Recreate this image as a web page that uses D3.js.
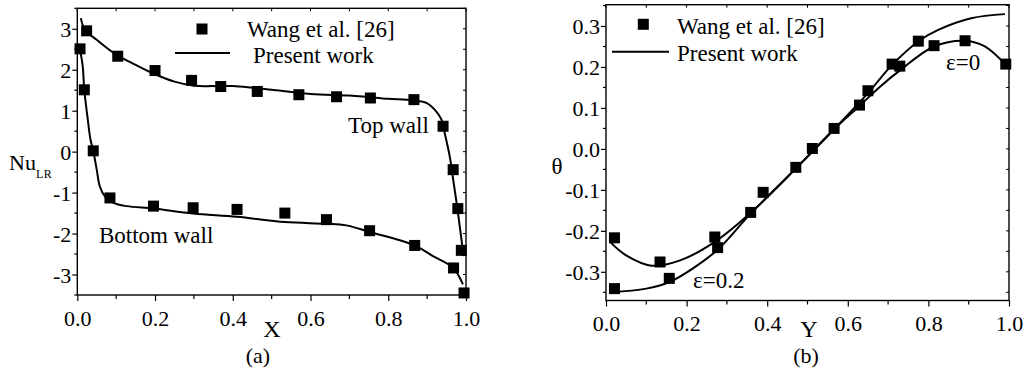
<!DOCTYPE html>
<html>
<head>
<meta charset="utf-8">
<script src="https://cdn.jsdelivr.net/npm/d3@7"></script>
<style>
  html, body { margin: 0; padding: 0; background: #fff; }
  svg { display: block; }
</style>
</head>
<body>
<svg id="chart" width="1028" height="374"></svg>
<script>
// ---------- Panel (a): local Nusselt number along the walls ----------
const topWallX   = [0.024, 0.104, 0.200, 0.294, 0.369, 0.463, 0.570, 0.667, 0.754, 0.866, 0.941, 0.967, 0.979, 0.988];
const topWallNu  = [2.95, 2.33, 1.98, 1.74, 1.59, 1.47, 1.39, 1.34, 1.31, 1.27, 0.62, -0.44, -1.39, -2.41];
const bottomWallX  = [0.007, 0.018, 0.041, 0.084, 0.196, 0.298, 0.411, 0.534, 0.641, 0.752, 0.868, 0.968, 0.995];
const bottomWallNu = [2.51, 1.51, 0.02, -1.13, -1.33, -1.37, -1.41, -1.50, -1.66, -1.93, -2.29, -2.84, -3.45];

const topLineX  = [0.009, 0.02, 0.05, 0.10, 0.15, 0.20, 0.25, 0.30, 0.35, 0.40, 0.45, 0.50, 0.60, 0.70, 0.75, 0.80, 0.864, 0.898, 0.92, 0.937, 0.945, 0.958, 0.967, 0.977, 0.986, 0.994];
const topLineNu = [3.26, 2.97, 2.73, 2.37, 2.12, 1.89, 1.71, 1.61, 1.60, 1.60, 1.56, 1.51, 1.41, 1.37, 1.33, 1.29, 1.25, 1.19, 1.02, 0.78, 0.46, -0.11, -0.68, -1.33, -1.98, -2.55];
const bottomLineX  = [0.007, 0.014, 0.018, 0.026, 0.034, 0.041, 0.05, 0.058, 0.071, 0.093, 0.127, 0.196, 0.298, 0.411, 0.534, 0.641, 0.692, 0.752, 0.868, 0.915, 0.968, 0.984, 0.992];
const bottomLineNu = [2.49, 2.08, 1.50, 0.86, 0.29, 0.02, -0.44, -0.85, -1.09, -1.25, -1.33, -1.39, -1.51, -1.59, -1.72, -1.76, -1.80, -1.96, -2.29, -2.55, -2.84, -3.08, -3.24];

const xTicksA = [0, 0.2, 0.4, 0.6, 0.8, 1.0];
const xTickLabelsA = ["0.0", "0.2", "0.4", "0.6", "0.8", "1.0"];
const yTicksA = [3, 2, 1, 0, -1, -2, -3];
const yTickLabelsA = ["3", "2", "1", "0", "-1", "-2", "-3"];

// ---------- Panel (b): temperature profiles ----------
const eps0Y     = [0.021, 0.134, 0.270, 0.359, 0.471, 0.566, 0.629, 0.729, 0.814, 0.891, 0.992];
const eps0Theta = [-0.217, -0.276, -0.215, -0.155, -0.045, 0.050, 0.107, 0.202, 0.252, 0.264, 0.207];
const eps02Y     = [0.021, 0.157, 0.277, 0.390, 0.512, 0.650, 0.710, 0.775];
const eps02Theta = [-0.341, -0.316, -0.241, -0.106, 0.001, 0.142, 0.207, 0.263];

const eps0LineY     = [0.01, 0.05, 0.113, 0.184, 0.27, 0.359, 0.472, 0.566, 0.629, 0.68, 0.731, 0.814, 0.891, 0.94, 0.992];
const eps0LineTheta = [-0.227, -0.260, -0.285, -0.272, -0.227, -0.156, -0.047, 0.048, 0.105, 0.152, 0.193, 0.250, 0.264, 0.250, 0.205];
const eps02LineY     = [0.01, 0.10, 0.157, 0.215, 0.277, 0.359, 0.472, 0.566, 0.65, 0.71, 0.777, 0.823, 0.906, 0.99];
const eps02LineTheta = [-0.350, -0.341, -0.325, -0.292, -0.246, -0.158, -0.047, 0.048, 0.136, 0.205, 0.264, 0.290, 0.319, 0.329];

const xTicksB = [0, 0.2, 0.4, 0.6, 0.8, 1.0];
const xTickLabelsB = ["0.0", "0.2", "0.4", "0.6", "0.8", "1.0"];
const yTicksB = [0.3, 0.2, 0.1, 0.0, -0.1, -0.2, -0.3];
const yTickLabelsB = ["0.3", "0.2", "0.1", "0.0", "-0.1", "-0.2", "-0.3"];

const legendLabels = ["Wang et al. [26]", "Present work"];

// ---------- drawing helpers ----------
const FONT = "Liberation Serif";
const svg = d3.select("#chart").attr("font-family", FONT);
const TICK_FONT = 22;
const TEXT_FONT = 23;

function drawFrame(g, x, y, xTicks, xLabels, yTicks, yLabels, xMinorStep, yMinorStep) {
  const [x0, x1] = x.range();
  const [y0, y1] = y.range(); // y0 bottom, y1 top
  const xd = x.domain(), yd = y.domain();

  const xMinor = d3.range(Math.ceil(xd[0] / xMinorStep - 1e-9), Math.floor(xd[1] / xMinorStep + 1e-9) + 1)
    .map(i => +(i * xMinorStep).toFixed(6));
  const yMinor = d3.range(Math.ceil(yd[0] / yMinorStep - 1e-9), Math.floor(yd[1] / yMinorStep + 1e-9) + 1)
    .map(i => +(i * yMinorStep).toFixed(6));

  const isMajor = (v, arr) => arr.some(t => Math.abs(t - v) < 1e-6);

  // bottom axis (outward ticks)
  const bottom = g.append("g").attr("transform", `translate(0,${y0})`)
    .call(d3.axisBottom(x).tickValues(xTicks).tickSize(6).tickPadding(6)
      .tickFormat((d, i) => xLabels[i]));
  bottom.attr("font-family", FONT).attr("font-size", TICK_FONT);
  bottom.select(".domain").remove();
  bottom.selectAll("text").attr("dy", "0.85em");
  bottom.selectAll("line").attr("stroke-width", 1.2);

  // left axis (outward ticks)
  const left = g.append("g").attr("transform", `translate(${x0},0)`)
    .call(d3.axisLeft(y).tickValues(yTicks).tickSize(5).tickPadding(1)
      .tickFormat((d, i) => yLabels[i]));
  left.attr("font-family", FONT).attr("font-size", TICK_FONT);
  left.select(".domain").remove();
  left.selectAll("text").attr("dy", "0.34em");
  left.selectAll("line").attr("stroke-width", 1.2);

  // minor ticks
  const minorX = xMinor.filter(v => !isMajor(v, xTicks));
  const minorY = yMinor.filter(v => !isMajor(v, yTicks));
  g.append("g").selectAll("line").data(minorX).join("line")
    .attr("x1", d => x(d)).attr("x2", d => x(d)).attr("y1", y0).attr("y2", y0 + 4)
    .attr("stroke", "#000").attr("stroke-width", 1.2);
  g.append("g").selectAll("line").data(minorY).join("line")
    .attr("y1", d => y(d)).attr("y2", d => y(d)).attr("x1", x0).attr("x2", x0 - 3)
    .attr("stroke", "#000").attr("stroke-width", 1.2);

  // mirrored ticks on top and right (inward, short)
  g.append("g").selectAll("line").data(xMinor).join("line")
    .attr("x1", d => x(d)).attr("x2", d => x(d)).attr("y1", y1).attr("y2", y1 + 3)
    .attr("stroke", "#000").attr("stroke-width", 1);
  g.append("g").selectAll("line").data(yMinor).join("line")
    .attr("y1", d => y(d)).attr("y2", d => y(d)).attr("x1", x1).attr("x2", x1 - 3)
    .attr("stroke", "#000").attr("stroke-width", 1);

  // frame
  g.append("rect").attr("x", x0).attr("y", y1).attr("width", x1 - x0).attr("height", y0 - y1)
    .attr("fill", "none").attr("stroke", "#000").attr("stroke-width", 1.4);
}

function drawCurve(g, x, y, xs, ys) {
  const pts = xs.map((v, i) => [v, ys[i]]);
  g.append("path").datum(pts)
    .attr("d", d3.line().x(d => x(d[0])).y(d => y(d[1])).curve(d3.curveCatmullRom.alpha(0.5)))
    .attr("fill", "none").attr("stroke", "#000").attr("stroke-width", 2);
}

function drawSquares(g, x, y, xs, ys, size) {
  const pts = xs.map((v, i) => [v, ys[i]]);
  g.append("g").selectAll("rect").data(pts).join("rect")
    .attr("x", d => x(d[0]) - size / 2).attr("y", d => y(d[1]) - size / 2)
    .attr("width", size).attr("height", size).attr("fill", "#000");
}

function text(g, str, x, y, size, anchor) {
  return g.append("text").attr("x", x).attr("y", y).attr("font-size", size)
    .attr("font-family", FONT).attr("fill", "#000")
    .attr("text-anchor", anchor || "start").text(str);
}

// ---------- panel (a) ----------
const gA = svg.append("g");
const xA = d3.scaleLinear().domain([0, 1]).range([77.3, 466]);
const yA = d3.scaleLinear().domain([-3.5, 3.5]).range([295, 8.3]);

drawCurve(gA, xA, yA, topLineX, topLineNu);
drawCurve(gA, xA, yA, bottomLineX, bottomLineNu);
drawSquares(gA, xA, yA, topWallX, topWallNu, 11);
drawSquares(gA, xA, yA, bottomWallX, bottomWallNu, 11);
drawFrame(gA, xA, yA, xTicksA, xTickLabelsA, yTicksA, yTickLabelsA, 0.1, 0.5);

// legend (a)
gA.append("rect").attr("x", 202 - 5.5).attr("y", 29 - 5.5).attr("width", 11).attr("height", 11).attr("fill", "#000");
text(gA, legendLabels[0], 247, 37, TEXT_FONT);
gA.append("line").attr("x1", 175).attr("x2", 230).attr("y1", 53).attr("y2", 53)
  .attr("stroke", "#000").attr("stroke-width", 2);
text(gA, legendLabels[1], 253, 63, TEXT_FONT);

text(gA, "Top wall", 348, 133, TEXT_FONT);
text(gA, "Bottom wall", 99, 243, TEXT_FONT);

// axis titles (a)
const nu = text(gA, "", 9, 170, 22);
nu.append("tspan").text("Nu");
nu.append("tspan").attr("font-size", 12).attr("dy", 8).attr("letter-spacing", 0.5).text("LR");
text(gA, "X", 272, 337, 24, "middle");
text(gA, "(a)", 258, 363, 22, "middle");

// ---------- panel (b) ----------
const gB = svg.append("g");
const xB = d3.scaleLinear().domain([0, 1]).range([606, 1009]);
const yB = d3.scaleLinear().domain([-0.37, 0.352]).range([300.5, 4.7]);

drawCurve(gB, xB, yB, eps0LineY, eps0LineTheta);
drawCurve(gB, xB, yB, eps02LineY, eps02LineTheta);
drawSquares(gB, xB, yB, eps0Y, eps0Theta, 11);
drawSquares(gB, xB, yB, eps02Y, eps02Theta, 11);
drawFrame(gB, xB, yB, xTicksB, xTickLabelsB, yTicksB, yTickLabelsB, 0.1, 0.05);

// legend (b)
gB.append("rect").attr("x", 643.3 - 5.5).attr("y", 24.3 - 5.5).attr("width", 11).attr("height", 11).attr("fill", "#000");
text(gB, legendLabels[0], 677, 34, TEXT_FONT);
gB.append("line").attr("x1", 612).attr("x2", 669).attr("y1", 51.7).attr("y2", 51.7)
  .attr("stroke", "#000").attr("stroke-width", 2);
text(gB, legendLabels[1], 677, 61, TEXT_FONT);

text(gB, "ε=0", 946, 70, TEXT_FONT);
text(gB, "ε=0.2", 693, 288, TEXT_FONT);

// axis titles (b)
text(gB, "θ", 557, 174, 23, "middle");
text(gB, "Y", 809, 337, 24, "middle");
text(gB, "(b)", 806, 363, 22, "middle");
</script>
</body>
</html>
